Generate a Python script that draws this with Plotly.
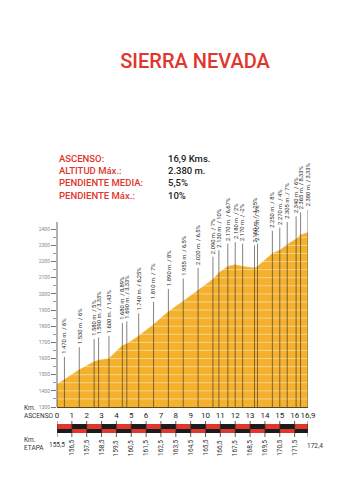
import plotly.graph_objects as go

# ---------------- data ----------------
title_text = "SIERRA NEVADA"
info_labels = ["ASCENSO:", "ALTITUD Máx.:", "PENDIENTE MEDIA:", "PENDIENTE Máx.:"]
info_values = ["16,9 Kms.", "2.380 m.", "5,5%", "10%"]

profile_km = [0, 0.5, 1.5, 2.5, 2.8, 3.5, 4.4, 4.7, 5.5, 6.5, 7.5, 8.5, 9.5, 10.5, 10.9,
              11.5, 12.0, 12.5, 13.3, 13.5, 14.5, 15.0, 15.5, 16.1, 16.4, 16.9]
profile_alt = [1440, 1470, 1530, 1580, 1590, 1600, 1680, 1690, 1740, 1810, 1890, 1955, 2020,
               2090, 2130, 2170, 2180, 2170, 2160, 2170, 2250, 2270, 2305, 2340, 2365, 2380]
grades = ["6%", "6%", "5%", "3,33%", "1,43%", "8,89%", "3,33%", "6,25%", "7%", "8%", "6,5%",
          "6,5%", "7%", "10%", "6,67%", "2%", "-2%", "-1,25%", "5%", "8%", "4%", "7%", "6%",
          "8,33%", "3,33%"]

y_ticks = [1300, 1400, 1500, 1600, 1700, 1800, 1900, 2000, 2100, 2200, 2300, 2400]
y_minor = [1350, 1450, 1550, 1650, 1750, 1850, 1950, 2050, 2150, 2250, 2350]
grid_alts = [1350, 1400, 1450, 1500, 1550, 1600, 1650, 1700, 1750, 1800, 1850, 1900, 1950,
             2000, 2050, 2100, 2150, 2200, 2250, 2300, 2350, 2400]
x_ticks = [0, 1, 2, 3, 4, 5, 6, 7, 8, 9, 10, 11, 12, 13, 14, 15, 16, 16.9]
x_ticktext = ["0", "1", "2", "3", "4", "5", "6", "7", "8", "9", "10", "11", "12", "13",
              "14", "15", "16", "16,9"]
etapa_start = 155.5
etapa_end_label = "172,4"

# ---------------- styles / layout geometry ----------------
RED = "#E1362C"
FILL = "#F3B12E"
BLACK = "#1b1b1b"
FONT = "Roboto"
OFF = 8                       # page body margin
W, H = 360 - OFF, 480 - OFF
PL, PR, PT, PB = 57, 308, 205, 460   # plot area in page pixels
ML, MR, MT, MB = PL - OFF, (W + OFF) - PR, PT - OFF, (H + OFF) - PB
PH = PB - PT
PW = PR - PL
BASE_PX = 407                 # page pixel of y=1300
main_bottom = (PB - BASE_PX) / PH
bar_top_px = 421
y2_top = (PB - bar_top_px) / PH
LABEL_OFF = 140


def paper_y(px):
    return (PB - px) / PH


def paper_x(px):
    return (px - PL) / PW


def fmt_alt(a):
    return f"{a:,}".replace(",", ".")


fig = go.Figure()

# profile fill
fig.add_trace(go.Scatter(x=profile_km, y=profile_alt, mode="lines", fill="tozeroy",
                         fillcolor=FILL, line=dict(color=FILL, width=0.5),
                         hoverinfo="skip", showlegend=False))

# light grid lines over the fill (invisible on white background)
gx, gy = [], []
for g in grid_alts:
    gx += [0, profile_km[-1], None]
    gy += [g, g, None]
fig.add_trace(go.Scatter(x=gx, y=gy, mode="lines",
                         line=dict(color="rgba(255,255,255,0.45)", width=1),
                         hoverinfo="skip", showlegend=False))

# vertical label lines
vx, vy = [], []
for k, a in zip(profile_km[1:], profile_alt[1:]):
    vx += [k, k, None]
    vy += [y_ticks[0], a + LABEL_OFF, None]
fig.add_trace(go.Scatter(x=vx, y=vy, mode="lines",
                         line=dict(color="rgba(50,45,40,0.6)", width=1),
                         hoverinfo="skip", showlegend=False))

# rotated labels
for k, a, g in zip(profile_km[1:], profile_alt[1:], grades):
    fig.add_annotation(x=k, y=a + LABEL_OFF, xref="x", yref="y",
                       text=f"{fmt_alt(a)} m. / {g}", textangle=-90,
                       xanchor="center", yanchor="bottom", yshift=1, showarrow=False,
                       font=dict(family=FONT, size=5.8, color="#262626"))

# striped km bar
seg_start = x_ticks[:-1]
seg_end = x_ticks[1:]
centers = [(s + e) / 2 for s, e in zip(seg_start, seg_end)]
widths = [e - s for s, e in zip(seg_start, seg_end)]
top_cols = [RED if i % 2 == 0 else BLACK for i in range(len(centers))]
bot_cols = [BLACK if i % 2 == 0 else RED for i in range(len(centers))]
fig.add_trace(go.Bar(x=centers, y=[4.5] * len(centers), base=[-7.5] * len(centers),
                     width=widths, marker=dict(color=top_cols, line=dict(width=0)),
                     xaxis="x", yaxis="y2", hoverinfo="skip", showlegend=False))
fig.add_trace(go.Bar(x=centers, y=[4.5] * len(centers), base=[-12] * len(centers),
                     width=widths, marker=dict(color=bot_cols, line=dict(width=0)),
                     xaxis="x", yaxis="y2", hoverinfo="skip", showlegend=False))

# ticks on the bar
tx, ty = [], []
for k in x_ticks:
    tx += [k, k, None]
    ty += [0, -16, None]
fig.add_trace(go.Scatter(x=tx, y=ty, mode="lines", line=dict(color="#333333", width=0.8),
                         xaxis="x", yaxis="y2", hoverinfo="skip", showlegend=False))

# ETAPA labels
fig.add_annotation(x=0, y=-24, xref="x", yref="y2", text=f"{etapa_start:.1f}".replace(".", ","),
                   showarrow=False, xanchor="center", yanchor="middle",
                   font=dict(family=FONT, size=6.5, color="#333333"))
for k in x_ticks[1:-1]:
    fig.add_annotation(x=k, y=-17, xref="x", yref="y2",
                       text=f"{etapa_start + k:.1f}".replace(".", ","), textangle=-90,
                       showarrow=False, xanchor="center", yanchor="top",
                       font=dict(family=FONT, size=6.5, color="#333333"))
fig.add_annotation(x=x_ticks[-1], y=-25, xref="x", yref="y2", text=etapa_end_label,
                   showarrow=False, xanchor="left", yanchor="middle", xshift=-3,
                   font=dict(family=FONT, size=6.5, color="#333333"))

# left captions
for txt, py in [("Km.", 408), ("ASCENSO", 415.5), ("Km.", 440), ("ETAPA", 447.5)]:
    fig.add_annotation(x=paper_x(22), y=paper_y(py), xref="paper", yref="paper", text=txt,
                       showarrow=False, xanchor="left", yanchor="middle",
                       font=dict(family=FONT, size=6.5, color="#333333"))

# info block
for i, (lab, val) in enumerate(zip(info_labels, info_values)):
    py = 158 + i * 12.4
    fig.add_annotation(x=0, y=paper_y(py), xref="paper", yref="paper", text=lab,
                       showarrow=False, xanchor="left", yanchor="middle",
                       font=dict(family=FONT, size=9.5, color=RED, weight=500))
    fig.add_annotation(x=paper_x(166), y=paper_y(py), xref="paper", yref="paper", text=val,
                       showarrow=False, xanchor="left", yanchor="middle",
                       font=dict(family=FONT, size=9.5, color="#222222", weight=500))

# y axis line (stops a bit above 2400)
fig.add_shape(type="line", xref="paper", yref="y", x0=0, x1=0, y0=y_ticks[0], y1=2445,
              line=dict(color="#666666", width=1))

fig.update_layout(
    width=W, height=H,
    margin=dict(l=ML, r=MR, t=MT, b=MB),
    paper_bgcolor="white", plot_bgcolor="rgba(0,0,0,0)",
    barmode="overlay", bargap=0,
    title=dict(text=title_text, x=(195 - OFF) / W, xanchor="center",
               y=1 - (61 - OFF) / H, yanchor="middle",
               font=dict(family=FONT, size=20, color=RED, weight=500)),
    xaxis=dict(range=[0, x_ticks[-1]], tickvals=x_ticks, ticktext=x_ticktext,
               tickangle=0, showgrid=False, zeroline=False, showline=True,
               linecolor="#5a4620", linewidth=1, ticks="", anchor="y",
               tickfont=dict(family=FONT, size=8, color="#222222")),
    yaxis=dict(domain=[main_bottom, 1], range=[1300, 2550], tickvals=y_ticks,
               showgrid=False, zeroline=False, showline=False, ticks="outside",
               ticklen=5, tickcolor="#777777", tickwidth=0.8,
               minor=dict(tickvals=y_minor, ticks="outside", ticklen=3,
                          tickcolor="#999999", showgrid=False),
               tickfont=dict(family=FONT, size=5, color="#888888")),
    yaxis2=dict(domain=[0, y2_top], range=[-39, 0], visible=False, anchor="x"),
    showlegend=False,
)

fig.write_html("out.html")
